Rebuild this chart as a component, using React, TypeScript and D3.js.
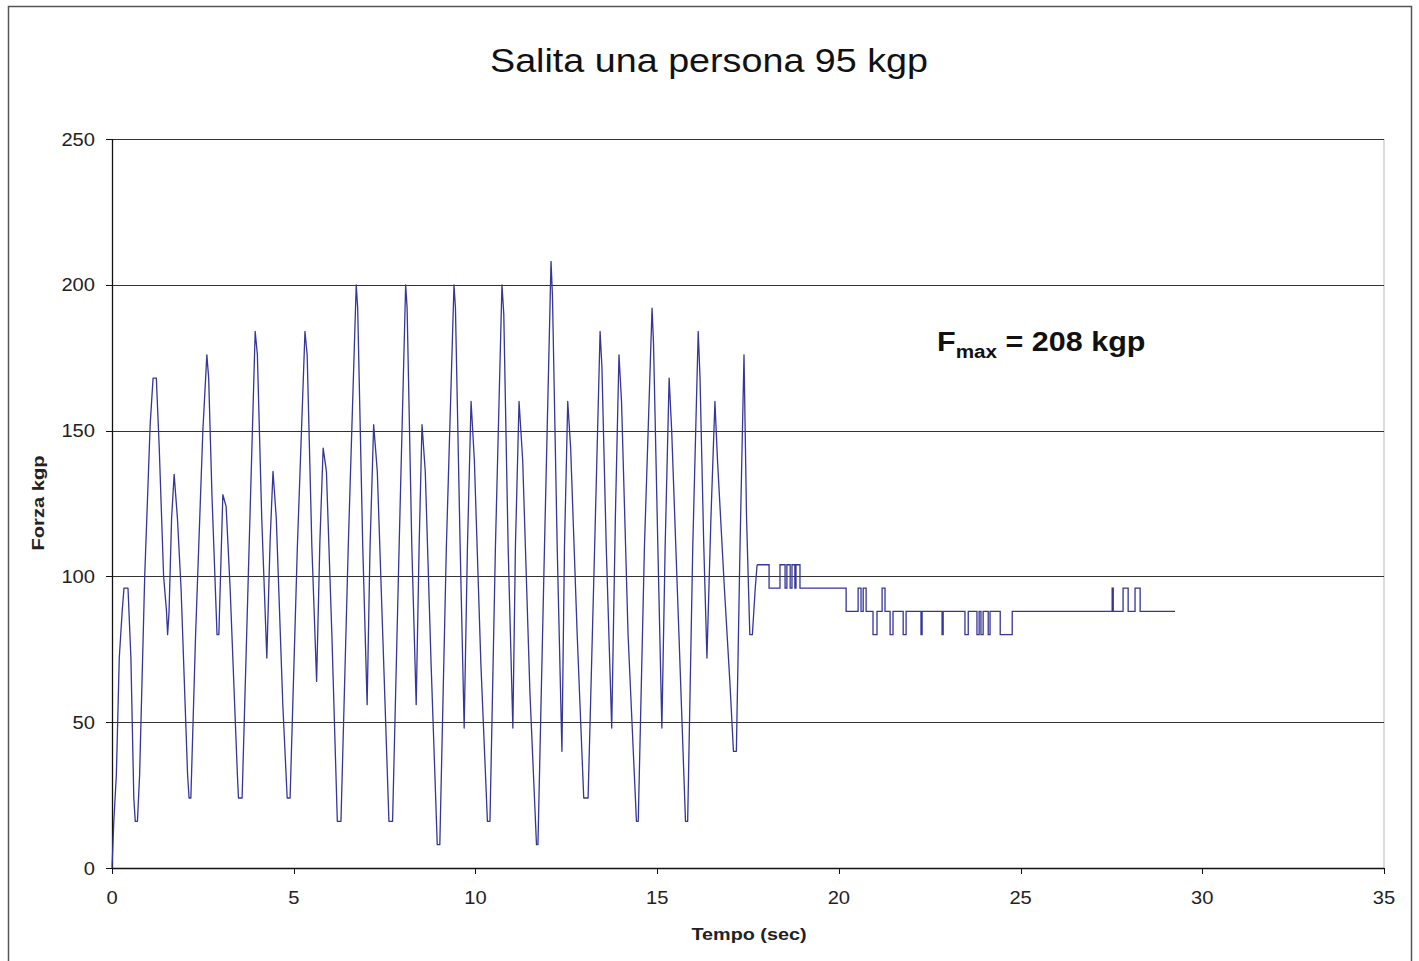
import React from 'react';
import * as d3 from 'd3';

// climbing phase, sampled at peaks / troughs / shoulders (sec, kgp)
const climbTime = [
  0, 0.05, 0.12, 0.2, 0.28, 0.33, 0.44, 0.52, 0.6, 0.64, 0.7, 0.76, 0.9, 1.05, 1.13, 1.22, 1.3, 1.42, 1.5, 1.53,
  1.57, 1.64, 1.71, 1.8, 1.9, 2.08, 2.12, 2.17, 2.3, 2.5, 2.61, 2.66, 2.75, 2.89, 2.94, 3.05, 3.14, 3.25, 3.45,
  3.48, 3.58, 3.75, 3.94, 4.0, 4.12, 4.26, 4.35, 4.43, 4.52, 4.7, 4.82, 4.9, 5.1, 5.31, 5.37, 5.5, 5.63, 5.72,
  5.81, 5.9, 6.05, 6.2, 6.3, 6.5, 6.72, 6.76, 6.9, 7.02, 7.1, 7.2, 7.3, 7.45, 7.62, 7.72, 7.9, 8.08, 8.12, 8.25,
  8.37, 8.45, 8.53, 8.62, 8.78, 8.95, 9.02, 9.2, 9.41, 9.45, 9.58, 9.69, 9.78, 9.88, 9.97, 10.15, 10.33, 10.4,
  10.55, 10.73, 10.78, 10.9, 11.03, 11.1, 11.2, 11.3, 11.5, 11.68, 11.72, 11.9, 12.08, 12.12, 12.25, 12.38,
  12.45, 12.54, 12.62, 12.8, 12.98, 13.1, 13.28, 13.43, 13.48, 13.6, 13.75, 13.85, 13.95, 14.02, 14.2, 14.43,
  14.48, 14.65, 14.86, 14.9, 15.02, 15.13, 15.22, 15.33, 15.4, 15.6, 15.78, 15.84, 15.98, 16.13, 16.18, 16.28,
  16.37, 16.48, 16.59, 16.66, 16.85, 17.0, 17.1, 17.18, 17.28, 17.39, 17.46, 17.55, 17.62, 17.7, 17.75,
];
const climbForce = [
  0, 16, 32, 72, 88, 96, 96, 72, 24, 16, 16, 32, 100, 152, 168, 168, 144, 100, 88, 80,
  88, 120, 135, 120, 96, 32, 24, 24, 80, 150, 176, 168, 128, 80, 80, 128, 124, 96, 32,
  24, 24, 100, 184, 176, 120, 72, 112, 136, 120, 56, 24, 24, 110, 184, 176, 110, 64, 112,
  144, 136, 80, 16, 16, 110, 200, 192, 110, 56, 110, 152, 136, 80, 16, 16, 110, 200, 192, 110,
  56, 110, 152, 136, 70, 8, 8, 110, 200, 192, 110, 48, 110, 160, 140, 70, 16, 16,
  110, 200, 190, 110, 48, 110, 160, 140, 60, 8, 8, 110, 208, 196, 110, 40,
  110, 160, 144, 80, 24, 24, 110, 184, 172, 110, 48, 120, 176, 160, 80, 16,
  16, 110, 192, 180, 110, 48, 110, 168, 150, 80, 16, 16, 110, 184, 168, 112,
  72, 120, 160, 140, 96, 64, 40, 40, 110, 176, 120, 80, 80, 96, 104,
];

// standing still on the sensor: quantised steps
const restTime = [
  17.75, 18.08, 18.38, 18.52, 18.57, 18.66, 18.71, 18.79, 18.82, 18.93, 20.2, 20.53, 20.61, 20.67, 20.75,
  20.94, 21.05, 21.19, 21.27, 21.41, 21.49, 21.77, 21.85, 22.26, 22.29, 22.84, 22.87, 23.47, 23.56, 23.8,
  23.86, 23.91, 23.97, 24.11, 24.16, 24.44, 24.77, 27.52, 27.55, 27.82, 27.96, 28.15, 28.29, 29.25,
];
const restForce = [
  104, 96, 104, 96, 104, 96, 104, 96, 104, 96, 88, 96, 88, 96, 88,
  80, 88, 96, 88, 80, 88, 80, 88, 80, 88, 80, 88, 80, 88, 80,
  88, 80, 88, 80, 88, 80, 88, 96, 88, 96, 88, 96, 88, 88,
];

const xTicks = [0, 5, 10, 15, 20, 25, 30, 35];
const yTicks = [0, 50, 100, 150, 200, 250];

const W = 1419;
const H = 961;
const plot = { left: 112, right: 1384, top: 139, bottom: 868 };
const lineColor = '#35359a';
const font = 'Arial, "Liberation Sans", sans-serif';
const stretch = 1.15; // the source image is a bit wider than tall

export default function App() {
  const x = d3.scaleLinear().domain([0, 35]).range([plot.left, plot.right]);
  const y = d3.scaleLinear().domain([0, 250]).range([plot.bottom, plot.top]);

  const climb = climbTime.map((t, i) => [t, climbForce[i]] as [number, number]);
  const rest = restTime.map((t, i) => [t, restForce[i]] as [number, number]);

  const linear = d3.line<[number, number]>().x(d => x(d[0])).y(d => y(d[1]));
  const stepped = d3.line<[number, number]>().x(d => x(d[0])).y(d => y(d[1])).curve(d3.curveStepAfter);

  return (
    <svg width={W} height={H} style={{ position: 'absolute', left: 0, top: 0, background: '#fff' }}>
      <rect x={8.5} y={6.5} width={1403} height={970} fill="#fff" stroke="#555" strokeWidth={1.5} />

      <text x={709} y={72} textAnchor="middle" fontFamily={font} fontSize={34} fill="#111"
        textLength={438} lengthAdjust="spacingAndGlyphs">
        Salita una persona 95 kgp
      </text>

      {/* plot frame */}
      <line x1={plot.right} x2={plot.right} y1={plot.top} y2={plot.bottom} stroke="#bbb" />
      {yTicks.filter(v => v > 0).map(v => (
        <line key={v} x1={plot.left} x2={plot.right} y1={Math.round(y(v)) + 0.5} y2={Math.round(y(v)) + 0.5}
          stroke="#333" strokeWidth={1} />
      ))}
      <line x1={plot.left} x2={plot.right} y1={plot.bottom + 0.5} y2={plot.bottom + 0.5} stroke="#111" strokeWidth={1.3} />
      <line x1={plot.left + 0.5} x2={plot.left + 0.5} y1={plot.top} y2={plot.bottom} stroke="#111" strokeWidth={1.3} />

      {yTicks.map(v => (
        <g key={v}>
          <line x1={plot.left - 6} x2={plot.left} y1={Math.round(y(v)) + 0.5} y2={Math.round(y(v)) + 0.5} stroke="#111" />
          <text transform={`translate(95,${y(v) + 6.5}) scale(${stretch},1)`} textAnchor="end"
            fontFamily={font} fontSize={17.5} fill="#222">{v}</text>
        </g>
      ))}
      {xTicks.map(v => (
        <g key={v}>
          <line x1={Math.round(x(v)) + 0.5} x2={Math.round(x(v)) + 0.5} y1={plot.bottom} y2={plot.bottom + 6} stroke="#111" />
          <text transform={`translate(${x(v)},904) scale(${stretch},1)`} textAnchor="middle"
            fontFamily={font} fontSize={17.5} fill="#222">{v}</text>
        </g>
      ))}

      <path d={linear(climb) ?? ''} fill="none" stroke={lineColor} strokeWidth={1.3} strokeLinejoin="round" />
      <path d={stepped(rest) ?? ''} fill="none" stroke={lineColor} strokeWidth={1.3} />

      <text x={749} y={940} textAnchor="middle" fontFamily={font} fontSize={17} fontWeight="bold" fill="#222"
        textLength={115} lengthAdjust="spacingAndGlyphs">
        Tempo (sec)
      </text>
      <text transform="translate(44,503) rotate(-90)" textAnchor="middle" fontFamily={font} fontSize={17}
        fontWeight="bold" fill="#222" textLength={95} lengthAdjust="spacingAndGlyphs">
        Forza kgp
      </text>

      <text transform="translate(937,351) scale(1.09,1)" fontFamily={font} fontSize={28} fontWeight="bold" fill="#111">
        F<tspan fontSize={19} dy={7}>max</tspan><tspan dy={-7}> = 208 kgp</tspan>
      </text>
    </svg>
  );
}
